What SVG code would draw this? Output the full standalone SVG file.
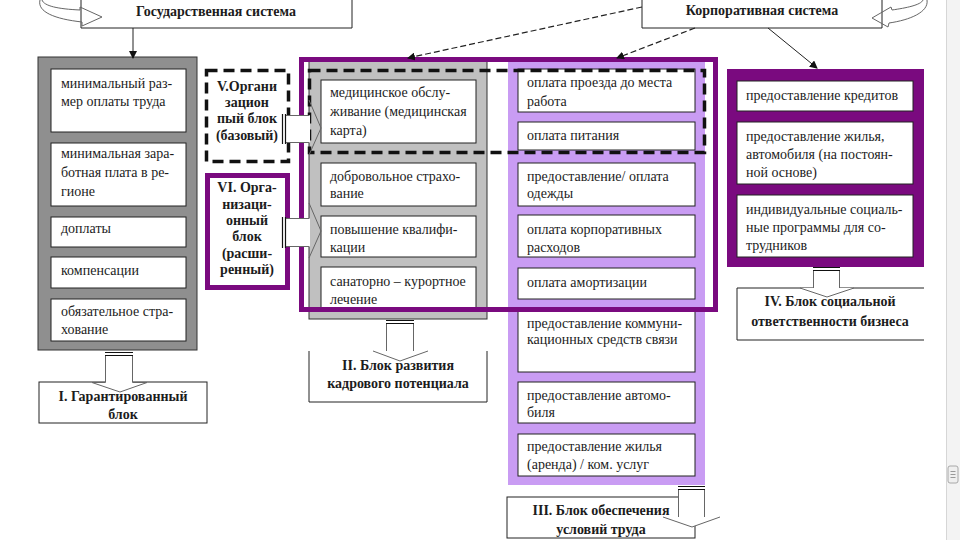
<svg xmlns="http://www.w3.org/2000/svg" width="960" height="540" viewBox="0 0 960 540" font-family="Liberation Serif, Times New Roman, DejaVu Serif, serif">
<defs>
<marker id="ah" markerWidth="8" markerHeight="8" refX="7" refY="4" orient="auto" markerUnits="userSpaceOnUse">
<path d="M0,0 L8,4 L0,8 Z" fill="#111"/>
</marker>
<style>
text{font-family:'Liberation Serif','Times New Roman','DejaVu Serif',serif}
.t{font-size:14px;fill:#1c1c1c}
.b{font-weight:bold;text-anchor:middle}
.box{fill:#fff;stroke:#222;stroke-width:1}
.thin{fill:none;stroke:#666;stroke-width:1}
.shaft{fill:#fff;stroke:none}
.dbl{stroke:#111;stroke-width:1.2}
.dash{fill:none;stroke:#111;stroke-width:3.5;stroke-dasharray:11 6}
.purple{fill:none;stroke:#7a0a7f;stroke-width:5}
</style>
</defs>
<rect width="960" height="540" fill="#fff"/>

<!-- scrollbar -->
<rect x="946" y="0" width="14" height="540" fill="#f3f3f3"/>
<line x1="946.5" y1="0" x2="946.5" y2="540" stroke="#d6d6d6"/>
<rect x="948" y="466" width="10" height="17" rx="2" fill="#efefef" stroke="#a8a8a8"/>
<path d="M950.5,471.5 H955.5 M950.5,474.5 H955.5 M950.5,477.5 H955.5" stroke="#999" stroke-width="1"/>

<!-- top systems -->
<g id="gos">
<path d="M81,0 V28 H352 V0" class="box"/>
<text class="t b" x="216" y="16">Государственная система</text>
</g>
<g id="korp">
<path d="M642,0 V28 H882 V0" class="box"/>
<text class="t b" x="762" y="15">Корпоративная система</text>
</g>
<g id="curved-arrows">
<path class="thin" d="M42,0 C44,6 58,9 80,10 M40,0 C37,12 55,19 82,22 M80,10 L80,7 L102,17 L82,26 L82,22"/>
<path class="thin" d="M923,0 C921,5 906,8 892,10 M927,0 C929,12 910,20 889,23 M892,10 L891,7 L872,18 L888,27 L889,23"/>
</g>

<!-- Block I column -->
<g id="block1-items">
<rect x="38" y="57" width="159" height="293" fill="#8f8f8f" stroke="#333"/>
<rect class="box" x="51" y="69" width="135" height="63"/>
<text class="t" x="61" y="88">минимальный раз-</text>
<text class="t" x="61" y="106">мер оплаты труда</text>
<rect class="box" x="51" y="143" width="135" height="63"/>
<text class="t" x="61" y="158">минимальная зара-</text>
<text class="t" x="61" y="177">ботная плата в ре-</text>
<text class="t" x="61" y="196">гионе</text>
<rect class="box" x="51" y="217" width="135" height="30"/>
<text class="t" x="61" y="233">доплаты</text>
<rect class="box" x="51" y="257" width="135" height="31"/>
<text class="t" x="61" y="275">компенсации</text>
<rect class="box" x="51" y="299" width="135" height="42"/>
<text class="t" x="61" y="316">обязательное стра-</text>
<text class="t" x="61" y="334">хование</text>
</g>
<g id="block1-title">
<rect class="box" x="39" y="382" width="168" height="41"/>
<text class="t b" x="123" y="401">I. Гарантированный</text>
<text class="t b" x="123" y="419">блок</text>
</g>

<!-- Block II column -->
<g id="block2-items">
<rect x="309" y="58" width="178" height="261" fill="#c0c0c0" stroke="#333"/>
<rect class="box" x="321" y="80" width="155" height="63"/>
<text class="t" x="330" y="97">медицинское обслу-</text>
<text class="t" x="330" y="116">живание (медицинская</text>
<text class="t" x="330" y="135">карта)</text>
<rect class="box" x="321" y="163" width="155" height="43"/>
<text class="t" x="330" y="181">добровольное страхо-</text>
<text class="t" x="330" y="198">вание</text>
<rect class="box" x="321" y="216" width="155" height="41"/>
<text class="t" x="330" y="234">повышение квалифи-</text>
<text class="t" x="330" y="252">кации</text>
<rect class="box" x="321" y="267" width="155" height="43"/>
<text class="t" x="330" y="286">санаторно – курортное</text>
<text class="t" x="330" y="304">лечение</text>
</g>
<g id="block2-title">
<path class="box" d="M309,351 V402 H487 V351"/>
<text class="t b" x="398" y="370">II. Блок развития</text>
<text class="t b" x="398" y="388">кадрового потенциала</text>
</g>

<!-- Block III column -->
<g id="block3-items">
<rect x="508" y="58" width="197" height="427" fill="#c99cf3"/>
<rect class="box" x="518" y="69" width="177" height="43"/>
<text class="t" x="527" y="87">оплата проезда до места</text>
<text class="t" x="527" y="106">работа</text>
<rect class="box" x="518" y="122" width="177" height="28"/>
<text class="t" x="527" y="140">оплата питания</text>
<rect class="box" x="518" y="163" width="177" height="43"/>
<text class="t" x="527" y="181">предоставление/ оплата</text>
<text class="t" x="527" y="198">одежды</text>
<rect class="box" x="518" y="215" width="177" height="42"/>
<text class="t" x="527" y="234">оплата корпоративных</text>
<text class="t" x="527" y="252">расходов</text>
<rect class="box" x="518" y="268" width="177" height="31"/>
<text class="t" x="527" y="287">оплата амортизации</text>
<rect class="box" x="518" y="310" width="177" height="62"/>
<text class="t" x="527" y="328">предоставление коммуни-</text>
<text class="t" x="527" y="344">кационных средств связи</text>
<rect class="box" x="518" y="382" width="177" height="41"/>
<text class="t" x="527" y="400">предоставление автомо-</text>
<text class="t" x="527" y="417">биля</text>
<rect class="box" x="518" y="434" width="177" height="42"/>
<text class="t" x="527" y="451">предоставление жилья</text>
<text class="t" x="527" y="469">(аренда) / ком. услуг</text>
</g>
<g id="block3-title">
<rect class="box" x="507" y="497" width="188" height="41"/>
<text class="t b" x="601" y="515">III. Блок обеспечения</text>
<text class="t b" x="601" y="534">условий труда</text>
</g>

<!-- Block IV column -->
<g id="block4-items">
<rect x="727" y="69" width="197" height="198" fill="#7a0a7f"/>
<rect class="box" x="737" y="81" width="176" height="30"/>
<text class="t" x="746" y="100">предоставление кредитов</text>
<rect class="box" x="737" y="122" width="176" height="62"/>
<text class="t" x="746" y="141">предоставление жилья,</text>
<text class="t" x="746" y="159">автомобиля (на постоян-</text>
<text class="t" x="746" y="177">ной основе)</text>
<rect class="box" x="737" y="195" width="176" height="62"/>
<text class="t" x="746" y="214">индивидуальные социаль-</text>
<text class="t" x="746" y="232">ные программы для со-</text>
<text class="t" x="746" y="250">трудников</text>
</g>
<g id="block4-title">
<path class="box" d="M924,288 H737 V340 H924"/>
<text class="t b" x="830" y="306">IV. Блок социальной</text>
<text class="t b" x="830" y="326">ответственности бизнеса</text>
</g>

<!-- Block V and VI -->
<g id="block5">
<rect x="205" y="69" width="84" height="94" fill="#fff"/>
<rect class="dash" x="206.5" y="70.5" width="82" height="91"/>
<text class="t b" x="247" y="91">V.Органи</text>
<text class="t b" x="247" y="107">зацион</text>
<text class="t b" x="247" y="123">пый блок</text>
<text class="t b" x="247" y="140">(базовый)</text>
</g>
<g id="block6">
<rect x="207.5" y="175.5" width="80" height="112" fill="#fff" stroke="#7a0a7f" stroke-width="5"/>
<text class="t b" x="247" y="192">VI. Орга-</text>
<text class="t b" x="247" y="209">низаци-</text>
<text class="t b" x="247" y="225">онный</text>
<text class="t b" x="247" y="241">блок</text>
<text class="t b" x="247" y="258">(расши-</text>
<text class="t b" x="247" y="274">ренный)</text>
</g>

<!-- frames -->
<g id="frames">
<rect class="purple" x="301.5" y="59.5" width="414" height="250"/>
<rect class="dash" x="309.5" y="70.5" width="395" height="82"/>
</g>

<!-- connectors -->
<g id="connectors">
<line x1="133" y1="28" x2="133" y2="58" stroke="#222" stroke-width="1" marker-end="url(#ah)"/>
<line x1="642" y1="7" x2="408" y2="58" stroke="#222" stroke-width="1.2" stroke-dasharray="6 3" marker-end="url(#ah)"/>
<line x1="695" y1="28" x2="617" y2="58" stroke="#222" stroke-width="1.2" stroke-dasharray="6 3" marker-end="url(#ah)"/>
<line x1="768" y1="28" x2="817" y2="68" stroke="#222" stroke-width="1" marker-end="url(#ah)"/>

<polygon class="shaft" points="105,352 133,352 133,382 147,382 120,392 92,382 105,382"/>
<path class="thin" d="M105.5,355 V382.5 L92,382.5 L120,392 L147,382.5 L132.5,382.5 V355"/>
<path class="dbl" d="M105,352.5 H133 M105,355.5 H133"/>

<polygon class="shaft" points="386,320 414,320 414,351 428,351 400,361 373,351 386,351"/>
<path class="thin" d="M386.5,323 V351 M413.5,323 V351 M373,351 L400,361 L428,351"/>
<path class="dbl" d="M386,320.5 H414 M386,323.5 H414"/>

<polygon class="shaft" points="678,486 705,486 705,517 720,517 692,527 663,517 678,517"/>
<path class="thin" d="M678.5,489 V517 M704.5,489 V517 M663,517 L692,527 L720,517"/>
<path class="dbl" d="M678,486.5 H705 M678,489.5 H705"/>

<polygon class="shaft" points="813,267 840,267 840,288 854,288 827,297 800,288 813,288"/>
<path class="thin" d="M813.5,270 V288 M839.5,270 V288 M800,288 L827,297 L854,288"/>
<path class="dbl" d="M813,267.5 H840 M813,270.5 H840"/>

<rect class="shaft" x="283" y="115" width="27" height="28"/>
<path class="thin" d="M285,115.5 H309.5 M285,142.5 H309.5 M309,100 L321,128 L309,155"/>
<path class="dbl" d="M282.5,114 V144 M285.5,114 V144"/>

<rect class="shaft" x="283" y="218" width="27" height="29"/>
<path class="thin" d="M285,218.5 H309.5 M285,246.5 H309.5 M309,203 L321,231 L309,258"/>
<path class="dbl" d="M282.5,217 V248 M285.5,217 V248"/>
</g>
</svg>
